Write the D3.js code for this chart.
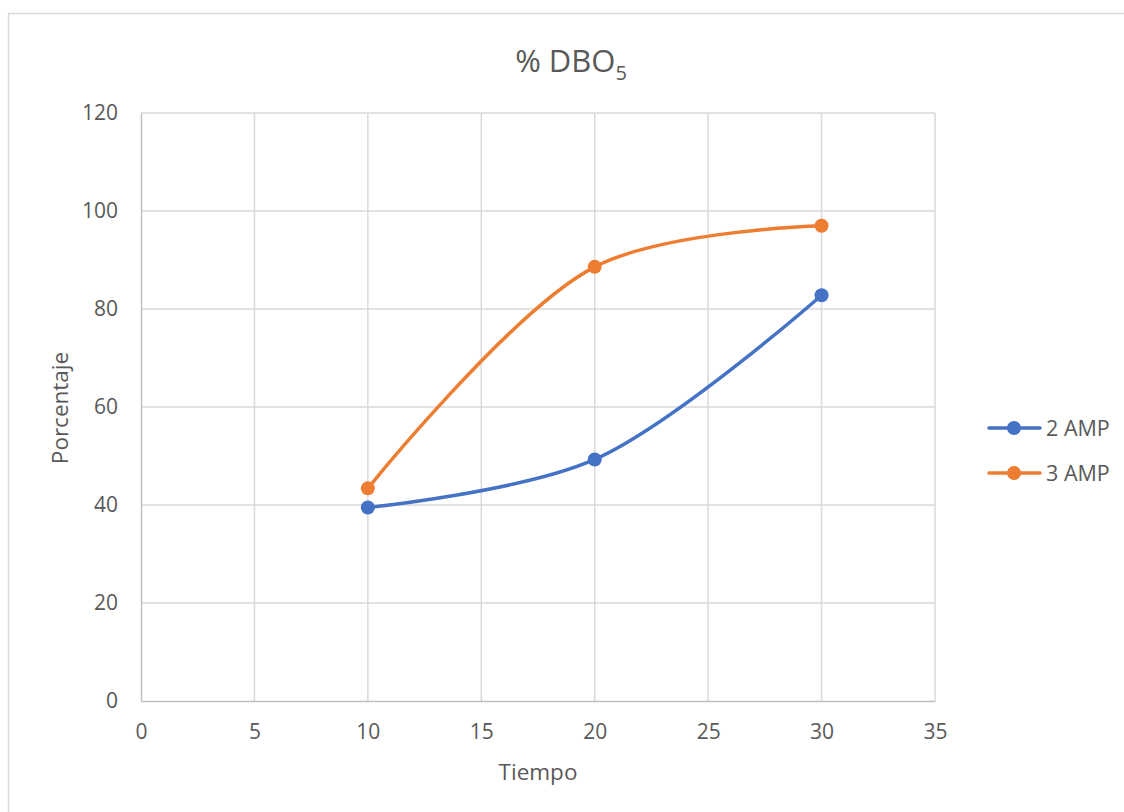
<!DOCTYPE html>
<html>
<head>
<meta charset="utf-8">
<script src="https://cdn.jsdelivr.net/npm/d3@7"></script>
<style>
  html, body { margin: 0; padding: 0; background: #fff; }
  svg { display: block; font-family: "Open Sans", "Noto Sans", sans-serif; }
</style>
</head>
<body>
<svg id="chart" width="1124" height="812"></svg>
<script>
// Tiempo values (x) shared by both series
const tiempo = [10, 20, 30];
// Percentages for each series
const amp2 = [39.5, 49.3, 82.8];
const amp3 = [43.4, 88.6, 97.0];
const seriesNames = ["2 AMP", "3 AMP"];
const seriesColors = ["#4472c4", "#ed7d31"];
const xTicks = [0, 5, 10, 15, 20, 25, 30, 35];
const yTicks = [0, 20, 40, 60, 80, 100, 120];

const svg = d3.select("#chart");
const textColor = "#595959";
const gridColor = "#d9d9d9";

// Outer chart frame
svg.append("rect")
  .attr("x", 8.5).attr("y", 13.5)
  .attr("width", 1130).attr("height", 820)
  .attr("fill", "#fff").attr("stroke", gridColor).attr("stroke-width", 1.5);

const plot = { left: 141, right: 935, top: 113, bottom: 701 };
const x = d3.scaleLinear().domain([0, 35]).range([plot.left, plot.right]);
const y = d3.scaleLinear().domain([0, 120]).range([plot.bottom, plot.top]);

// Gridlines
const grid = svg.append("g");
grid.selectAll(".vx").data(xTicks.filter(d => d > 0)).join("line")
  .attr("x1", d => x(d)).attr("x2", d => x(d))
  .attr("y1", plot.top).attr("y2", plot.bottom)
  .attr("stroke", gridColor).attr("stroke-width", 1.5);
grid.selectAll(".hy").data(yTicks.filter(d => d > 0)).join("line")
  .attr("x1", plot.left).attr("x2", plot.right)
  .attr("y1", d => y(d)).attr("y2", d => y(d))
  .attr("stroke", gridColor).attr("stroke-width", 1.5);

// Axes
const xAxis = svg.append("g").attr("transform", `translate(0,${plot.bottom})`)
  .call(d3.axisBottom(x).tickValues(xTicks).tickSize(0).tickPadding(31));
const yAxis = svg.append("g").attr("transform", `translate(${plot.left},0)`)
  .call(d3.axisLeft(y).tickValues(yTicks).tickSize(0).tickPadding(23));
[xAxis, yAxis].forEach(a => {
  a.attr("font-size", null).attr("font-family", null);
  a.select(".domain").attr("stroke", "#bfbfbf").attr("stroke-width", 1.5);
  a.selectAll("text").attr("fill", textColor).style("font-size", "21px");
});
xAxis.selectAll("text").attr("dy", "0.35em");

// Title
const title = svg.append("text")
  .attr("x", 571).attr("y", 72)
  .attr("text-anchor", "middle")
  .attr("fill", textColor).style("font-size", "31px");
title.append("tspan").text("% DBO");
title.append("tspan").text("5").attr("dy", 8).style("font-size", "20px");

// Axis titles
svg.append("text").attr("x", x(17.5)).attr("y", 780)
  .attr("text-anchor", "middle").attr("fill", textColor)
  .style("font-size", "22.5px").text("Tiempo");
svg.append("text")
  .attr("transform", `translate(68,${(plot.top + plot.bottom) / 2 + 1}) rotate(-90)`)
  .attr("text-anchor", "middle").attr("fill", textColor)
  .style("font-size", "22.5px").text("Porcentaje");

// Series
const series = [amp2, amp3].map((vals, i) => ({
  name: seriesNames[i], color: seriesColors[i],
  points: tiempo.map((t, j) => [t, vals[j]])
}));

const line = d3.line().x(d => x(d[0])).y(d => y(d[1]))
  .curve(d3.curveCatmullRom.alpha(0.5));

series.forEach(s => {
  svg.append("path").datum(s.points)
    .attr("d", line).attr("fill", "none")
    .attr("stroke", s.color).attr("stroke-width", 3.5)
    .attr("stroke-linecap", "round");
  svg.selectAll(null).data(s.points).join("circle")
    .attr("cx", d => x(d[0])).attr("cy", d => y(d[1]))
    .attr("r", 7).attr("fill", s.color);
});

// Legend
const legend = svg.append("g");
series.forEach((s, i) => {
  const ly = 428 + i * 45;
  legend.append("line").attr("x1", 989).attr("x2", 1040)
    .attr("y1", ly).attr("y2", ly)
    .attr("stroke", s.color).attr("stroke-width", 3.5).attr("stroke-linecap", "round");
  legend.append("circle").attr("cx", 1014).attr("cy", ly).attr("r", 7).attr("fill", s.color);
  legend.append("text").attr("x", 1046).attr("y", ly).attr("dy", "0.35em")
    .attr("fill", textColor).style("font-size", "21.5px").text(s.name);
});
</script>
</body>
</html>
